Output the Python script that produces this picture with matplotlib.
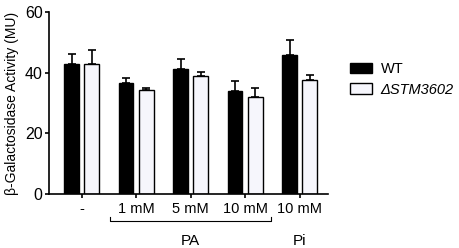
import numpy as np
import matplotlib
matplotlib.use("Agg")
import matplotlib.pyplot as plt
from matplotlib.patches import Patch
from matplotlib.transforms import blended_transform_factory

plt.rcParams['font.family'] = ['Liberation Sans', 'DejaVu Sans']

# data
labels = ['-', '1 mM', '5 mM', '10 mM', '10 mM']
wt_mean = [42.9, 36.6, 41.3, 33.9, 45.9]
wt_err = [3.4, 1.8, 3.3, 3.5, 4.9]
mut_mean = [42.9, 34.4, 39.0, 32.0, 37.6]
mut_err = [4.7, 0.6, 1.3, 2.9, 1.6]

fig = plt.figure(figsize=(4.59, 2.48), dpi=100)
ax = fig.add_axes([49/459, 54/248, 279/459, 182/248])

x = np.arange(len(labels))
w = 0.27
off = 0.185
ax.bar(x - off, wt_mean, w, color='black', edgecolor='black', linewidth=1.0)
ax.bar(x + off, mut_mean, w, color='#f6f6fc', edgecolor='black', linewidth=1.0)
ax.errorbar(x - off, wt_mean, yerr=[np.zeros(len(x)), wt_err], fmt='none',
            ecolor='black', elinewidth=1.2, capsize=3, capthick=1.2)
ax.errorbar(x + off, mut_mean, yerr=[np.zeros(len(x)), mut_err], fmt='none',
            ecolor='black', elinewidth=1.2, capsize=3, capthick=1.2)

ax.set_xlim(-0.6, 4.52)
ax.set_ylim(0, 60)
ax.set_yticks([0, 20, 40, 60])
ax.set_xticks(x)
ax.set_xticklabels(labels, fontsize=10.5)
ax.tick_params(axis='y', labelsize=11.5, width=1.2, length=3, pad=1.5)
ax.tick_params(axis='x', width=1.2, length=3, pad=3)
ax.spines['top'].set_visible(False)
ax.spines['right'].set_visible(False)
ax.spines['left'].set_linewidth(1.2)
ax.spines['bottom'].set_linewidth(1.2)
ax.set_ylabel('β-Galactosidase Activity (MU)', fontsize=10, labelpad=4)

# bracket under PA group
tr = blended_transform_factory(ax.transData, ax.transAxes)
bx0, bx1 = 0.52, 3.47
ax.plot([bx0, bx0, bx1, bx1], [-0.128, -0.147, -0.147, -0.128], color='black',
        lw=0.8, transform=tr, clip_on=False)
ax.text(2.0, -0.26, 'PA', transform=tr, ha='center', va='center', fontsize=11)
ax.text(4.0, -0.26, 'Pi', transform=tr, ha='center', va='center', fontsize=11)

handles = [Patch(facecolor='black', edgecolor='black'),
           Patch(facecolor='#f6f6fc', edgecolor='black', linewidth=1.0)]
leg = fig.legend(handles, ['WT', 'ΔSTM3602'], loc='upper left',
                 bbox_to_anchor=(337/459, 1 - 49/248), frameon=False,
                 fontsize=10.5, handlelength=1.5, handleheight=0.75,
                 handletextpad=0.6, labelspacing=0.45)
leg.get_texts()[1].set_fontstyle('italic')

fig.savefig('out.png', dpi=100)
